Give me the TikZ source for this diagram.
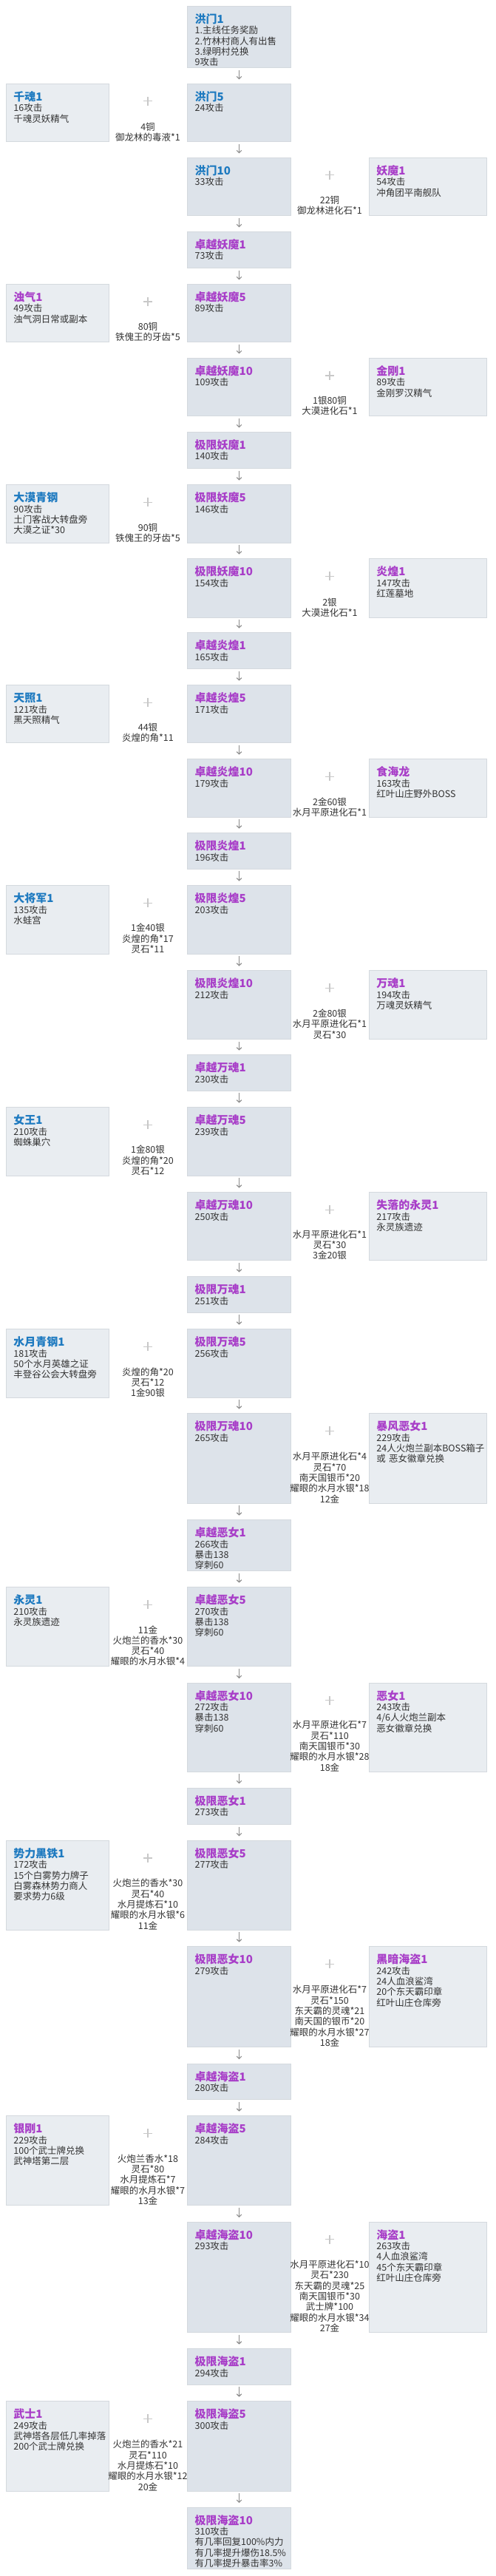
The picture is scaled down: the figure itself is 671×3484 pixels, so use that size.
\documentclass[tikz,border=0pt]{standalone}
\usepackage{fontspec}
\setmainfont{Noto Sans CJK SC}
\usetikzlibrary{arrows.meta}
\definecolor{cfill}{RGB}{221,227,234}
\definecolor{sfill}{RGB}{233,237,241}
\definecolor{sline}{RGB}{212,217,222}
\definecolor{topbar}{RGB}{93,109,126}
\definecolor{ttlblue}{RGB}{30,122,192}
\definecolor{ttlpurp}{RGB}{168,62,200}
\definecolor{txt}{RGB}{51,51,51}
\definecolor{plusc}{RGB}{200,200,200}
\definecolor{arrc}{RGB}{140,140,140}
\tikzset{every picture/.style={line width=0.75pt}}

\begin{document}
\begin{tikzpicture}[x=1pt,y=1pt,yscale=-1,xscale=1,
  cbox/.style={anchor=north west,inner sep=0pt,outer sep=0pt,minimum width=140.4pt,fill=cfill,draw=sline,line width=0.6pt,
    path picture={\fill [topbar] (path picture bounding box.north west) rectangle ([yshift=2.6pt]path picture bounding box.north east);}},
  sbox/.style={anchor=north west,inner sep=0pt,outer sep=0pt,fill=sfill,draw=sline,line width=0.8pt},
  lbox/.style={sbox,minimum width=139pt},
  rbox/.style={sbox,minimum width=158.7pt},
  ttl/.style={anchor=base west,inner sep=0pt,font=\fontsize{15}{18}\selectfont\bfseries},
  tb/.style={ttl,text=ttlblue},
  tp/.style={ttl,text=ttlpurp},
  body/.style={anchor=base west,inner sep=0pt,text width=160pt,align=left,text=txt,font=\fontsize{12.5}{14.3}\selectfont},
  mid/.style={anchor=south,inner sep=0pt,align=center,text=txt,font=\fontsize{12.5}{14.3}\selectfont},
  plus/.style={draw=plusc,line width=1.4pt},
  arr/.style={draw=arrc,line width=1.1pt,-{Straight Barb[length=3.2pt,width=6.5pt]}}]

\fill [white] (0,0) rectangle (671,3484);
\useasboundingbox (0,0) rectangle (671,3484);

%洪门1
\node [cbox, minimum height=83.4pt] (hm1) at (253.3,8.3) {};
\node [tb] (hm1t) at ([xshift=10pt,yshift=23.2pt]hm1.north west) {洪门1};
\node [body] (hm1b) at ([xshift=10pt,yshift=37.5pt]hm1.north west) {1.主线任务奖励\\2.竹林村商人有出售\\3.绿明村兑换\\9攻击};

%洪门5 + 千魂1
\node [cbox, minimum height=78.4pt] (hm5) at (253.3,113.3) {};
\node [tb] (hm5t) at ([xshift=10pt,yshift=23.2pt]hm5.north west) {洪门5};
\node [body] (hm5b) at ([xshift=10pt,yshift=37.5pt]hm5.north west) {24攻击};
\node [lbox, minimum height=78.4pt] (qh) at (8.6,113.3) {};
\node [tb] (qht) at ([xshift=9.4pt,yshift=23.2pt]qh.north west) {千魂1};
\node [body] (qhb) at ([xshift=9.4pt,yshift=37.5pt]qh.north west) {16攻击\\千魂灵妖精气};
\draw [plus] (200,136.8) +(-6,0) -- +(6,0) +(0,-6) -- +(0,6);
\node [mid] (qhm) at (200,191.7) {4铜\\御龙林的毒液*1};

%洪门10 + 妖魔1
\node [cbox, minimum height=78pt] (hm10) at (253.3,213.3) {};
\node [tb] (hm10t) at ([xshift=10pt,yshift=23.2pt]hm10.north west) {洪门10};
\node [body] (hm10b) at ([xshift=10pt,yshift=37.5pt]hm10.north west) {33攻击};
\node [rbox, minimum height=78pt] (ym) at (499.4,213.3) {};
\node [tp] (ymt) at ([xshift=9.6pt,yshift=23.2pt]ym.north west) {妖魔1};
\node [body] (ymb) at ([xshift=9.6pt,yshift=37.5pt]ym.north west) {54攻击\\冲角团平南舰队};
\draw [plus] (446,236.8) +(-6,0) -- +(6,0) +(0,-6) -- +(0,6);
\node [mid] (ymm) at (446,291.3) {22铜\\御龙林进化石*1};

%卓越妖魔1
\node [cbox, minimum height=49pt] (zy1) at (253.3,313.3) {};
\node [tp] (zy1t) at ([xshift=10pt,yshift=23.2pt]zy1.north west) {卓越妖魔1};
\node [body] (zy1b) at ([xshift=10pt,yshift=37.5pt]zy1.north west) {73攻击};

%卓越妖魔5 + 浊气1
\node [cbox, minimum height=78pt] (zy5) at (253.3,384.3) {};
\node [tp] (zy5t) at ([xshift=10pt,yshift=23.2pt]zy5.north west) {卓越妖魔5};
\node [body] (zy5b) at ([xshift=10pt,yshift=37.5pt]zy5.north west) {89攻击};
\node [lbox, minimum height=78pt] (zq) at (8.6,384.3) {};
\node [tp] (zqt) at ([xshift=9.4pt,yshift=23.2pt]zq.north west) {浊气1};
\node [body] (zqb) at ([xshift=9.4pt,yshift=37.5pt]zq.north west) {49攻击\\浊气洞日常或副本};
\draw [plus] (200,407.8) +(-6,0) -- +(6,0) +(0,-6) -- +(0,6);
\node [mid] (zqm) at (200,462.3) {80铜\\铁傀王的牙齿*5};

%卓越妖魔10 + 金刚1
\node [cbox, minimum height=78pt] (zy10) at (253.3,484.3) {};
\node [tp] (zy10t) at ([xshift=10pt,yshift=23.2pt]zy10.north west) {卓越妖魔10};
\node [body] (zy10b) at ([xshift=10pt,yshift=37.5pt]zy10.north west) {109攻击};
\node [rbox, minimum height=78pt] (jg) at (499.4,484.3) {};
\node [tp] (jgt) at ([xshift=9.6pt,yshift=23.2pt]jg.north west) {金刚1};
\node [body] (jgb) at ([xshift=9.6pt,yshift=37.5pt]jg.north west) {89攻击\\金刚罗汉精气};
\draw [plus] (446,507.8) +(-6,0) -- +(6,0) +(0,-6) -- +(0,6);
\node [mid] (jgm) at (446,562.3) {1银80铜\\大漠进化石*1};

%极限妖魔1
\node [cbox, minimum height=49pt] (jy1) at (253.3,584.3) {};
\node [tp] (jy1t) at ([xshift=10pt,yshift=23.2pt]jy1.north west) {极限妖魔1};
\node [body] (jy1b) at ([xshift=10pt,yshift=37.5pt]jy1.north west) {140攻击};

%极限妖魔5 + 大漠青钢
\node [cbox, minimum height=78.3pt] (jy5) at (253.3,655.7) {};
\node [tp] (jy5t) at ([xshift=10pt,yshift=23.2pt]jy5.north west) {极限妖魔5};
\node [body] (jy5b) at ([xshift=10pt,yshift=37.5pt]jy5.north west) {146攻击};
\node [lbox, minimum height=78.3pt] (dm) at (8.6,655.7) {};
\node [tb] (dmt) at ([xshift=9.4pt,yshift=23.2pt]dm.north west) {大漠青钢};
\node [body] (dmb) at ([xshift=9.4pt,yshift=37.5pt]dm.north west) {90攻击\\土门客战大转盘旁\\大漠之证*30};
\draw [plus] (200,679.2) +(-6,0) -- +(6,0) +(0,-6) -- +(0,6);
\node [mid] (dmm) at (200,734) {90铜\\铁傀王的牙齿*5};

%极限妖魔10 + 炎煌1
\node [cbox, minimum height=79.3pt] (jy10) at (253.3,755.7) {};
\node [tp] (jy10t) at ([xshift=10pt,yshift=23.2pt]jy10.north west) {极限妖魔10};
\node [body] (jy10b) at ([xshift=10pt,yshift=37.5pt]jy10.north west) {154攻击};
\node [rbox, minimum height=79.3pt] (yh) at (499.4,755.7) {};
\node [tp] (yht) at ([xshift=9.6pt,yshift=23.2pt]yh.north west) {炎煌1};
\node [body] (yhb) at ([xshift=9.6pt,yshift=37.5pt]yh.north west) {147攻击\\红莲墓地};
\draw [plus] (446,779.2) +(-6,0) -- +(6,0) +(0,-6) -- +(0,6);
\node [mid] (yhm) at (446,835) {2银\\大漠进化石*1};

%卓越炎煌1
\node [cbox, minimum height=48.6pt] (zh1) at (253.3,855.7) {};
\node [tp] (zh1t) at ([xshift=10pt,yshift=23.2pt]zh1.north west) {卓越炎煌1};
\node [body] (zh1b) at ([xshift=10pt,yshift=37.5pt]zh1.north west) {165攻击};

%卓越炎煌5 + 天照1
\node [cbox, minimum height=77.6pt] (zh5) at (253.3,926.7) {};
\node [tp] (zh5t) at ([xshift=10pt,yshift=23.2pt]zh5.north west) {卓越炎煌5};
\node [body] (zh5b) at ([xshift=10pt,yshift=37.5pt]zh5.north west) {171攻击};
\node [lbox, minimum height=77.6pt] (tz) at (8.6,926.7) {};
\node [tb] (tzt) at ([xshift=9.4pt,yshift=23.2pt]tz.north west) {天照1};
\node [body] (tzb) at ([xshift=9.4pt,yshift=37.5pt]tz.north west) {121攻击\\黑天照精气};
\draw [plus] (200,950.2) +(-6,0) -- +(6,0) +(0,-6) -- +(0,6);
\node [mid] (tzm) at (200,1004.3) {44银\\炎煌的角*11};

%卓越炎煌10 + 食海龙
\node [cbox, minimum height=78.3pt] (zh10) at (253.3,1026.7) {};
\node [tp] (zh10t) at ([xshift=10pt,yshift=23.2pt]zh10.north west) {卓越炎煌10};
\node [body] (zh10b) at ([xshift=10pt,yshift=37.5pt]zh10.north west) {179攻击};
\node [rbox, minimum height=78.3pt] (shl) at (499.4,1026.7) {};
\node [tp] (shlt) at ([xshift=9.6pt,yshift=23.2pt]shl.north west) {食海龙};
\node [body] (shlb) at ([xshift=9.6pt,yshift=37.5pt]shl.north west) {163攻击\\红叶山庄野外BOSS};
\draw [plus] (446,1050.2) +(-6,0) -- +(6,0) +(0,-6) -- +(0,6);
\node [mid] (shlm) at (446,1105) {2金60银\\水月平原进化石*1};

%极限炎煌1
\node [cbox, minimum height=48.3pt] (jh1) at (253.3,1126.7) {};
\node [tp] (jh1t) at ([xshift=10pt,yshift=23.2pt]jh1.north west) {极限炎煌1};
\node [body] (jh1b) at ([xshift=10pt,yshift=37.5pt]jh1.north west) {196攻击};

%极限炎煌5 + 大将军1
\node [cbox, minimum height=92.3pt] (jh5) at (253.3,1197.7) {};
\node [tp] (jh5t) at ([xshift=10pt,yshift=23.2pt]jh5.north west) {极限炎煌5};
\node [body] (jh5b) at ([xshift=10pt,yshift=37.5pt]jh5.north west) {203攻击};
\node [lbox, minimum height=92.3pt] (djj) at (8.6,1197.7) {};
\node [tb] (djjt) at ([xshift=9.4pt,yshift=23.2pt]djj.north west) {大将军1};
\node [body] (djjb) at ([xshift=9.4pt,yshift=37.5pt]djj.north west) {135攻击\\水蛙宫};
\draw [plus] (200,1221.2) +(-6,0) -- +(6,0) +(0,-6) -- +(0,6);
\node [mid] (djjm) at (200,1290) {1金40银\\炎煌的角*17\\灵石*11};

%极限炎煌10 + 万魂1
\node [cbox, minimum height=93pt] (jh10) at (253.3,1312.7) {};
\node [tp] (jh10t) at ([xshift=10pt,yshift=23.2pt]jh10.north west) {极限炎煌10};
\node [body] (jh10b) at ([xshift=10pt,yshift=37.5pt]jh10.north west) {212攻击};
\node [rbox, minimum height=93pt] (wh) at (499.4,1312.7) {};
\node [tp] (wht) at ([xshift=9.6pt,yshift=23.2pt]wh.north west) {万魂1};
\node [body] (whb) at ([xshift=9.6pt,yshift=37.5pt]wh.north west) {194攻击\\万魂灵妖精气};
\draw [plus] (446,1336.2) +(-6,0) -- +(6,0) +(0,-6) -- +(0,6);
\node [mid] (whm) at (446,1405.7) {2金80银\\水月平原进化石*1\\灵石*30};

%卓越万魂1
\node [cbox, minimum height=48.3pt] (zw1) at (253.3,1426.7) {};
\node [tp] (zw1t) at ([xshift=10pt,yshift=23.2pt]zw1.north west) {卓越万魂1};
\node [body] (zw1b) at ([xshift=10pt,yshift=37.5pt]zw1.north west) {230攻击};

%卓越万魂5 + 女王1
\node [cbox, minimum height=92.3pt] (zw5) at (253.3,1497.7) {};
\node [tp] (zw5t) at ([xshift=10pt,yshift=23.2pt]zw5.north west) {卓越万魂5};
\node [body] (zw5b) at ([xshift=10pt,yshift=37.5pt]zw5.north west) {239攻击};
\node [lbox, minimum height=92.3pt] (nw) at (8.6,1497.7) {};
\node [tb] (nwt) at ([xshift=9.4pt,yshift=23.2pt]nw.north west) {女王1};
\node [body] (nwb) at ([xshift=9.4pt,yshift=37.5pt]nw.north west) {210攻击\\蜘蛛巢穴};
\draw [plus] (200,1521.2) +(-6,0) -- +(6,0) +(0,-6) -- +(0,6);
\node [mid] (nwm) at (200,1590) {1金80银\\炎煌的角*20\\灵石*12};

%卓越万魂10 + 失落的永灵1
\node [cbox, minimum height=91.6pt] (zw10) at (253.3,1612.7) {};
\node [tp] (zw10t) at ([xshift=10pt,yshift=23.2pt]zw10.north west) {卓越万魂10};
\node [body] (zw10b) at ([xshift=10pt,yshift=37.5pt]zw10.north west) {250攻击};
\node [rbox, minimum height=91.6pt] (yl) at (499.4,1612.7) {};
\node [tp] (ylt) at ([xshift=9.6pt,yshift=23.2pt]yl.north west) {失落的永灵1};
\node [body] (ylb) at ([xshift=9.6pt,yshift=37.5pt]yl.north west) {217攻击\\永灵族遗迹};
\draw [plus] (446,1636.2) +(-6,0) -- +(6,0) +(0,-6) -- +(0,6);
\node [mid] (ylm) at (446,1704.3) {水月平原进化石*1\\灵石*30\\3金20银};

%极限万魂1
\node [cbox, minimum height=48.3pt] (jw1) at (253.3,1726.7) {};
\node [tp] (jw1t) at ([xshift=10pt,yshift=23.2pt]jw1.north west) {极限万魂1};
\node [body] (jw1b) at ([xshift=10pt,yshift=37.5pt]jw1.north west) {251攻击};

%极限万魂5 + 水月青钢1
\node [cbox, minimum height=92.3pt] (jw5) at (253.3,1797.7) {};
\node [tp] (jw5t) at ([xshift=10pt,yshift=23.2pt]jw5.north west) {极限万魂5};
\node [body] (jw5b) at ([xshift=10pt,yshift=37.5pt]jw5.north west) {256攻击};
\node [lbox, minimum height=92.3pt] (sy) at (8.6,1797.7) {};
\node [tb] (syt) at ([xshift=9.4pt,yshift=23.2pt]sy.north west) {水月青钢1};
\node [body] (syb) at ([xshift=9.4pt,yshift=37.5pt]sy.north west) {181攻击\\50个水月英雄之证\\丰登谷公会大转盘旁};
\draw [plus] (200,1821.2) +(-6,0) -- +(6,0) +(0,-6) -- +(0,6);
\node [mid] (sym) at (200,1890) {炎煌的角*20\\灵石*12\\1金90银};

%极限万魂10 + 暴风恶女1
\node [cbox, minimum height=121.3pt] (jw10) at (253.3,1911.7) {};
\node [tp] (jw10t) at ([xshift=10pt,yshift=23.2pt]jw10.north west) {极限万魂10};
\node [body] (jw10b) at ([xshift=10pt,yshift=37.5pt]jw10.north west) {265攻击};
\node [rbox, minimum height=121.3pt] (bf) at (499.4,1911.7) {};
\node [tp] (bft) at ([xshift=9.6pt,yshift=23.2pt]bf.north west) {暴风恶女1};
\node [body] (bfb) at ([xshift=9.6pt,yshift=37.5pt]bf.north west) {229攻击\\24人火炮兰副本BOSS箱子\\或 恶女徽章兑换};
\draw [plus] (446,1935.2) +(-6,0) -- +(6,0) +(0,-6) -- +(0,6);
\node [mid] (bfm) at (446,2033) {水月平原进化石*4\\灵石*70\\南天国银币*20\\耀眼的水月水银*18\\12金};

%卓越恶女1
\node [cbox, minimum height=68.6pt] (ze1) at (253.3,2055.7) {};
\node [tp] (ze1t) at ([xshift=10pt,yshift=23.2pt]ze1.north west) {卓越恶女1};
\node [body] (ze1b) at ([xshift=10pt,yshift=37.5pt]ze1.north west) {266攻击\\暴击138\\穿刺60};

%卓越恶女5 + 永灵1
\node [cbox, minimum height=106.6pt] (ze5) at (253.3,2146.7) {};
\node [tp] (ze5t) at ([xshift=10pt,yshift=23.2pt]ze5.north west) {卓越恶女5};
\node [body] (ze5b) at ([xshift=10pt,yshift=37.5pt]ze5.north west) {270攻击\\暴击138\\穿刺60};
\node [lbox, minimum height=106.6pt] (ylg) at (8.6,2146.7) {};
\node [tb] (ylgt) at ([xshift=9.4pt,yshift=23.2pt]ylg.north west) {永灵1};
\node [body] (ylgb) at ([xshift=9.4pt,yshift=37.5pt]ylg.north west) {210攻击\\永灵族遗迹};
\draw [plus] (200,2170.2) +(-6,0) -- +(6,0) +(0,-6) -- +(0,6);
\node [mid] (ylgm) at (200,2253.3) {11金\\火炮兰的香水*30\\灵石*40\\耀眼的水月水银*4};

%卓越恶女10 + 恶女1
\node [cbox, minimum height=120pt] (ze10) at (253.3,2276) {};
\node [tp] (ze10t) at ([xshift=10pt,yshift=23.2pt]ze10.north west) {卓越恶女10};
\node [body] (ze10b) at ([xshift=10pt,yshift=37.5pt]ze10.north west) {272攻击\\暴击138\\穿刺60};
\node [rbox, minimum height=120pt] (en) at (499.4,2276) {};
\node [tp] (ent) at ([xshift=9.6pt,yshift=23.2pt]en.north west) {恶女1};
\node [body] (enb) at ([xshift=9.6pt,yshift=37.5pt]en.north west) {243攻击\\4/6人火炮兰副本\\恶女徽章兑换};
\draw [plus] (446,2299.5) +(-6,0) -- +(6,0) +(0,-6) -- +(0,6);
\node [mid] (enm) at (446,2396) {水月平原进化石*7\\灵石*110\\南天国银币*30\\耀眼的水月水银*28\\18金};

%极限恶女1
\node [cbox, minimum height=49pt] (je1) at (253.3,2418.3) {};
\node [tp] (je1t) at ([xshift=10pt,yshift=23.2pt]je1.north west) {极限恶女1};
\node [body] (je1b) at ([xshift=10pt,yshift=37.5pt]je1.north west) {273攻击};

%极限恶女5 + 势力黑铁1
\node [cbox, minimum height=120.7pt] (je5) at (253.3,2489.3) {};
\node [tp] (je5t) at ([xshift=10pt,yshift=23.2pt]je5.north west) {极限恶女5};
\node [body] (je5b) at ([xshift=10pt,yshift=37.5pt]je5.north west) {277攻击};
\node [lbox, minimum height=120.7pt] (sl) at (8.6,2489.3) {};
\node [tb] (slt) at ([xshift=9.4pt,yshift=23.2pt]sl.north west) {势力黑铁1};
\node [body] (slb) at ([xshift=9.4pt,yshift=37.5pt]sl.north west) {172攻击\\15个白雾势力牌子\\白雾森林势力商人\\要求势力6级};
\draw [plus] (200,2512.8) +(-6,0) -- +(6,0) +(0,-6) -- +(0,6);
\node [mid] (slm) at (200,2610) {火炮兰的香水*30\\灵石*40\\水月提炼石*10\\耀眼的水月水银*6\\11金};

%极限恶女10 + 黑暗海盗1
\node [cbox, minimum height=135.6pt] (je10) at (253.3,2632.7) {};
\node [tp] (je10t) at ([xshift=10pt,yshift=23.2pt]je10.north west) {极限恶女10};
\node [body] (je10b) at ([xshift=10pt,yshift=37.5pt]je10.north west) {279攻击};
\node [rbox, minimum height=135.6pt] (ad) at (499.4,2632.7) {};
\node [tp] (adt) at ([xshift=9.6pt,yshift=23.2pt]ad.north west) {黑暗海盗1};
\node [body] (adb) at ([xshift=9.6pt,yshift=37.5pt]ad.north west) {242攻击\\24人血浪鲨湾\\20个东天霸印章\\红叶山庄仓库旁};
\draw [plus] (446,2656.2) +(-6,0) -- +(6,0) +(0,-6) -- +(0,6);
\node [mid] (adm) at (446,2768.3) {水月平原进化石*7\\灵石*150\\东天霸的灵魂*21\\南天国的银币*20\\耀眼的水月水银*27\\18金};

%卓越海盗1
\node [cbox, minimum height=48.3pt] (zd1) at (253.3,2791) {};
\node [tp] (zd1t) at ([xshift=10pt,yshift=23.2pt]zd1.north west) {卓越海盗1};
\node [body] (zd1b) at ([xshift=10pt,yshift=37.5pt]zd1.north west) {280攻击};

%卓越海盗5 + 银刚1
\node [cbox, minimum height=120.6pt] (zd5) at (253.3,2861.7) {};
\node [tp] (zd5t) at ([xshift=10pt,yshift=23.2pt]zd5.north west) {卓越海盗5};
\node [body] (zd5b) at ([xshift=10pt,yshift=37.5pt]zd5.north west) {284攻击};
\node [lbox, minimum height=120.6pt] (yg) at (8.6,2861.7) {};
\node [tp] (ygt) at ([xshift=9.4pt,yshift=23.2pt]yg.north west) {银刚1};
\node [body] (ygb) at ([xshift=9.4pt,yshift=37.5pt]yg.north west) {229攻击\\100个武士牌兑换\\武神塔第二层};
\draw [plus] (200,2885.2) +(-6,0) -- +(6,0) +(0,-6) -- +(0,6);
\node [mid] (ygm) at (200,2982.3) {火炮兰香水*18\\灵石*80\\水月提炼石*7\\耀眼的水月水银*7\\13金};

%卓越海盗10 + 海盗1
\node [cbox, minimum height=149.3pt] (zd10) at (253.3,3005) {};
\node [tp] (zd10t) at ([xshift=10pt,yshift=23.2pt]zd10.north west) {卓越海盗10};
\node [body] (zd10b) at ([xshift=10pt,yshift=37.5pt]zd10.north west) {293攻击};
\node [rbox, minimum height=149.3pt] (hd) at (499.4,3005) {};
\node [tp] (hdt) at ([xshift=9.6pt,yshift=23.2pt]hd.north west) {海盗1};
\node [body] (hdb) at ([xshift=9.6pt,yshift=37.5pt]hd.north west) {263攻击\\4人血浪鲨湾\\45个东天霸印章\\红叶山庄仓库旁};
\draw [plus] (446,3028.5) +(-6,0) -- +(6,0) +(0,-6) -- +(0,6);
\node [mid] (hdm) at (446,3154.3) {水月平原进化石*10\\灵石*230\\东天霸的灵魂*25\\南天国银币*30\\武士牌*100\\耀眼的水月水银*34\\27金};

%极限海盗1
\node [cbox, minimum height=48.3pt] (jd1) at (253.3,3176.7) {};
\node [tp] (jd1t) at ([xshift=10pt,yshift=23.2pt]jd1.north west) {极限海盗1};
\node [body] (jd1b) at ([xshift=10pt,yshift=37.5pt]jd1.north west) {294攻击};

%极限海盗5 + 武士1
\node [cbox, minimum height=121.3pt] (jd5) at (253.3,3247.7) {};
\node [tp] (jd5t) at ([xshift=10pt,yshift=23.2pt]jd5.north west) {极限海盗5};
\node [body] (jd5b) at ([xshift=10pt,yshift=37.5pt]jd5.north west) {300攻击};
\node [lbox, minimum height=121.3pt] (ws) at (8.6,3247.7) {};
\node [tp] (wst) at ([xshift=9.4pt,yshift=23.2pt]ws.north west) {武士1};
\node [body] (wsb) at ([xshift=9.4pt,yshift=37.5pt]ws.north west) {249攻击\\武神塔各层低几率掉落\\200个武士牌兑换};
\draw [plus] (200,3271.2) +(-6,0) -- +(6,0) +(0,-6) -- +(0,6);
\node [mid] (wsm) at (200,3369) {火炮兰的香水*21\\灵石*110\\水月提炼石*10\\耀眼的水月水银*12\\20金};

%极限海盗10
\node [cbox, minimum height=83.3pt] (jd10) at (253.3,3391) {};
\node [tp] (jd10t) at ([xshift=10pt,yshift=23.2pt]jd10.north west) {极限海盗10};
\node [body] (jd10b) at ([xshift=10pt,yshift=37.5pt]jd10.north west) {310攻击\\有几率回复100\%内力\\有几率提升爆伤18.5\%\\有几率提升暴击率3\%};

%Arrows
\foreach \a/\b in {hm1/hm5,hm5/hm10,hm10/zy1,zy1/zy5,zy5/zy10,zy10/jy1,jy1/jy5,jy5/jy10,jy10/zh1,zh1/zh5,zh5/zh10,zh10/jh1,jh1/jh5,jh5/jh10,jh10/zw1,zw1/zw5,zw5/zw10,zw10/jw1,jw1/jw5,jw5/jw10,jw10/ze1,ze1/ze5,ze5/ze10,ze10/je1,je1/je5,je5/je10,je10/zd1,zd1/zd5,zd5/zd10,zd10/jd1,jd1/jd5,jd5/jd10}
  \draw [arr] ([yshift=3.3pt]\a.south) -- ([yshift=-6pt]\b.north);

\end{tikzpicture}
\end{document}
